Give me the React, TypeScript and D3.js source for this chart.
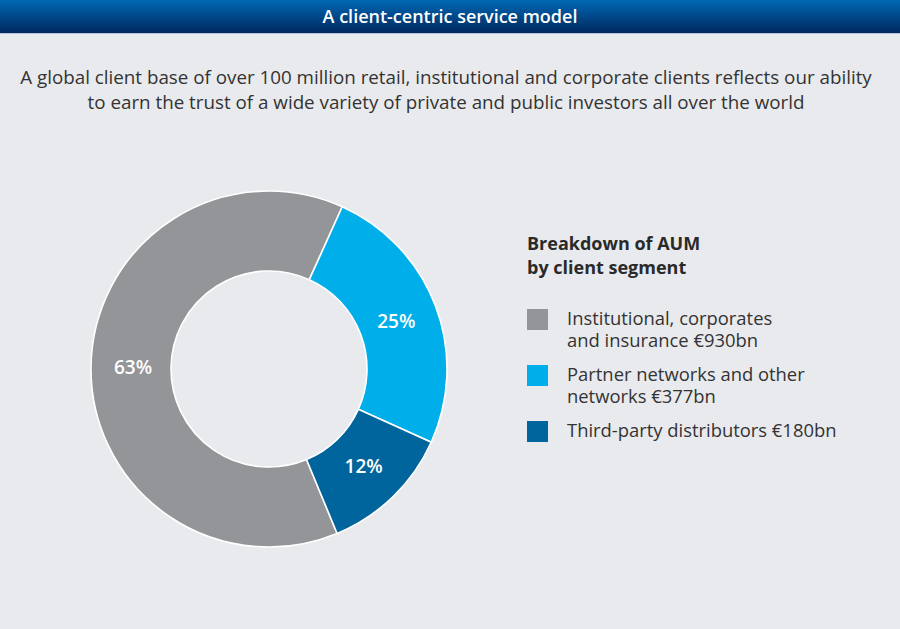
import React from "react";
import * as d3 from "d3";

const segments = ["Institutional, corporates and insurance", "Partner networks and other networks", "Third-party distributors"];
const shares = [63, 25, 12];
const aumLabels = ["€930bn", "€377bn", "€180bn"];
const legendLines = [
  ["Institutional, corporates", "and insurance €930bn"],
  ["Partner networks and other", "networks €377bn"],
  ["Third-party distributors €180bn"],
];
const colors = ["#949598", "#00aeea", "#00659c"];

const title = "A client-centric service model";
const intro = [
  "A global client base of over 100 million retail, institutional and corporate clients reflects our ability",
  "to earn the trust of a wide variety of private and public investors all over the world",
];

const font = "'Open Sans', 'Noto Sans', sans-serif";

const App = () => {
  const width = 900;
  const height = 629;
  const cx = 269;
  const cy = 369;
  const outer = 178;
  const inner = 98;

  const start = (157.5 * Math.PI) / 180;
  const pie = d3
    .pie<number>()
    .sort(null)
    .value((d) => d)
    .startAngle(start)
    .endAngle(start + 2 * Math.PI);
  const arcs = pie(shares);
  const arc = d3.arc<d3.PieArcDatum<number>>().innerRadius(inner).outerRadius(outer);
  const labelArc = d3.arc<d3.PieArcDatum<number>>().innerRadius(136).outerRadius(136);

  return (
    <svg width={width} height={height} style={{ display: "block", position: "absolute", left: 0, top: 0 }}>
      <defs>
        <linearGradient id="bar" x1="0" y1="0" x2="0" y2="1">
          <stop offset="0" stopColor="#0068b4" />
          <stop offset="1" stopColor="#00285e" />
        </linearGradient>
      </defs>
      <rect x={0} y={0} width={width} height={height} fill="#e9eaee" />
      <rect x={0} y={0} width={width} height={33} fill="url(#bar)" />
      <line x1={0} x2={width} y1={33.5} y2={33.5} stroke="#b9c3d6" strokeWidth={1} />
      <text x={450} y={23} textAnchor="middle" fill="#fff" fontFamily={font} fontSize={18} fontWeight={600}>
        {title}
      </text>
      {intro.map((t, i) => (
        <text key={i} x={446} y={84 + i * 25} textAnchor="middle" fill="#333" fontFamily={font} fontSize={18.8}>
          {t}
        </text>
      ))}

      <g transform={`translate(${cx},${cy})`}>
        {arcs.map((a, i) => (
          <path key={segments[i]} d={arc(a) || ""} fill={colors[i]} stroke="#fff" strokeWidth={1.6} />
        ))}
        {arcs.map((a, i) => {
          const [x, y] = labelArc.centroid(a);
          return (
            <text key={i} x={x} y={y} dy="0.35em" textAnchor="middle" fill="#fff" fontFamily={font} fontSize={19} fontWeight={600}>
              {shares[i]}%
            </text>
          );
        })}
      </g>

      <g fontFamily={font} fill="#2a2a2a">
        <text x={527} y={250} fontSize={18} fontWeight={700}>
          <tspan x={527} y={250}>Breakdown of AUM</tspan>
          <tspan x={527} y={274}>by client segment</tspan>
        </text>
        {legendLines.map((lines, i) => {
          const top = 309 + i * 56;
          return (
            <g key={aumLabels[i]}>
              <rect x={527} y={top} width={21} height={21} fill={colors[i]} />
              <text fontSize={18.4} fill="#333">
                {lines.map((l, j) => (
                  <tspan key={j} x={567} y={top + 16 + j * 22}>
                    {l}
                  </tspan>
                ))}
              </text>
            </g>
          );
        })}
      </g>
    </svg>
  );
};

export default App;
